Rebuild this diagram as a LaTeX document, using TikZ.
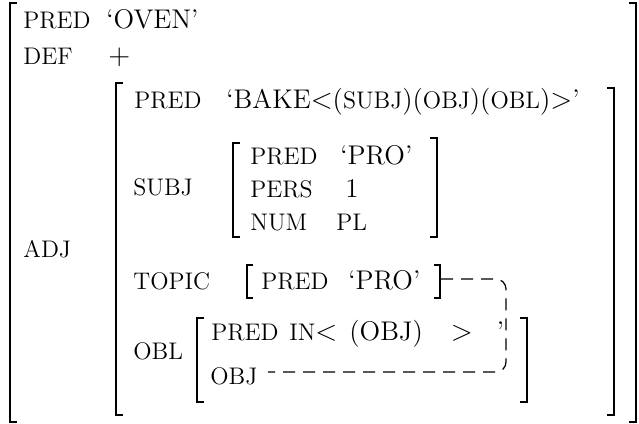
\documentclass[tikz,border=0pt]{standalone}
\usepackage{tikz}
\usetikzlibrary{positioning}

% function names inside a value
\newcommand{\gfname}[1]{{\fontsize{12}{14}\selectfont #1}}

\begin{document}
\begin{tikzpicture}[
    x=0.5pt, y=-0.5pt,
    every node/.style={
        inner sep=0pt,
        anchor=base west
    },
    attr/.style={font=\fontsize{12}{14}\selectfont},
    val/.style={font=\fontsize{13.5}{16}\selectfont},
    brack/.style={line width=1pt},
    link/.style={line width=0.6pt, dash pattern=on 6pt off 4pt, rounded corners=5pt}
]
\useasboundingbox (0,0) rectangle (639,424);

% outer f-structure
\draw[brack] (17,3) -- (10,3) -- (10,422) -- (17,422);
\draw[brack] (629,3) -- (636,3) -- (636,422) -- (629,422);
\node[attr] (predA) at (23,28) {PRED};
\node[val] (oven) at (106,28) {`OVEN'};
\node[attr] (def) at (23,64) {DEF};
\node[val] (plus) at (108,64) {$+$};
\node[attr] (adj) at (23,257) {ADJ};

% adjunct f-structure
\draw[brack] (123,83) -- (116,83) -- (116,415) -- (123,415);
\draw[brack] (607,88) -- (614,88) -- (614,415) -- (607,415);
\node[attr] (predB) at (134,108) {PRED};
\node[val] (bake) at (226,108) {`BAKE$<$(\gfname{SUBJ})(\gfname{OBJ})(\gfname{OBL})$>$'};

% subject
\node[attr] (subj) at (133,195) {SUBJ};
\draw[brack] (240,143) -- (233,143) -- (233,237) -- (240,237);
\draw[brack] (430,138) -- (437,138) -- (437,237) -- (430,237);
\node[attr] (predC) at (250,164) {PRED};
\node[val] (pro) at (340,164) {`PRO'};
\node[attr] (pers) at (250,197) {PERS};
\node[val] (one) at (345,197) {1};
\node[attr] (num) at (250,230) {NUM};
\node[attr] (pl) at (336,230) {PL};

% topic
\node[attr] (topic) at (133,289) {TOPIC};
\draw[brack] (253,265) -- (247,265) -- (247,298) -- (253,298);
\draw[brack] (434,265) -- (440,265) -- (440,298) -- (434,298);
\node[attr] (predD) at (261,289) {PRED};
\node[val] (proB) at (348,289) {`PRO'};
\coordinate (topicend) at (441,279);

% oblique
\node[attr] (obl) at (133,359) {OBL};
\draw[brack] (204,318) -- (197,318) -- (197,402) -- (204,402);
\draw[brack] (520,318) -- (527,318) -- (527,402) -- (520,402);
\node[attr] (predE) at (211,340) {PRED};
\node[val] (inobj) at (289,340) {\gfname{IN}$<$\hspace{6pt}(OBJ)\hspace{14pt}$>$\hspace{12pt}'};
\node[attr] (obj) at (210,384) {OBJ};

% structure sharing
\draw[link] (topicend) -| (506,372) -- ([xshift=5pt]obj.east |- 0,372);

\end{tikzpicture}
\end{document}
